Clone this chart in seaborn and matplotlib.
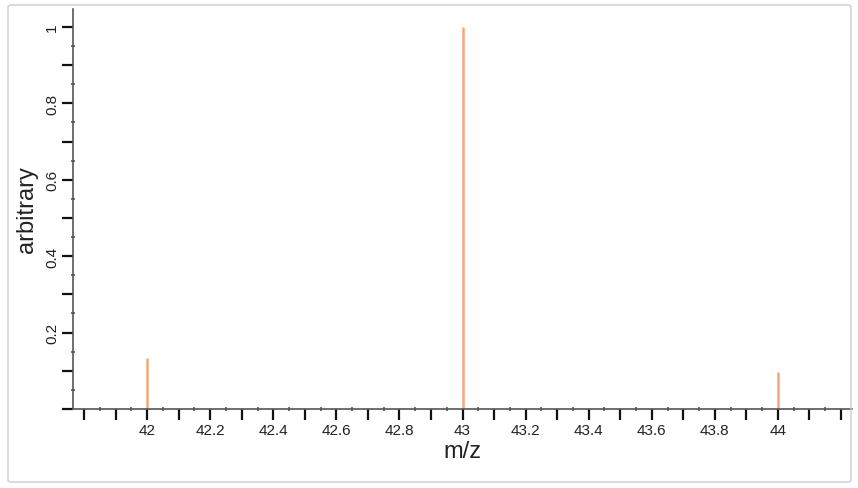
import seaborn as sns
import matplotlib.pyplot as plt
import matplotlib.ticker as mticker
from matplotlib.patches import FancyBboxPatch

mz = [42.0, 43.0, 44.0]
intensity = [0.134, 1.0, 0.096]

sns.set_style("ticks")
plt.rcParams["font.family"] = ["Liberation Sans", "DejaVu Sans"]

fig = plt.figure(figsize=(8.58, 4.89), dpi=100)
fig.patches.append(FancyBboxPatch((8 / 858, 6 / 489), 843 / 858, 477 / 489,
                                  boxstyle="round,pad=0,rounding_size=0.004",
                                  transform=fig.transFigure, facecolor="none",
                                  edgecolor="#cccccc", linewidth=1))
ax = fig.add_axes([73 / 858, 1 - 410 / 489, 779 / 858, 400 / 489])

ax.vlines(mz, 0, intensity, color="#f5a77c", linewidth=1.8)

ax.set_xlim(41.765, 44.235)
ax.set_ylim(0, 1.047)
sns.despine(ax=ax)
for s in ["left", "bottom"]:
    ax.spines[s].set_color("#555555")
    ax.spines[s].set_linewidth(1.2)

ax.xaxis.set_major_locator(mticker.MultipleLocator(0.1))
ax.xaxis.set_minor_locator(mticker.MultipleLocator(0.05))
ax.xaxis.set_major_formatter(mticker.FuncFormatter(
    lambda v, p: (f"{v:g}" if abs(round(v * 10) % 2) == 0 and 41.9 < v < 44.1 else "")))
ax.yaxis.set_major_locator(mticker.MultipleLocator(0.1))
ax.yaxis.set_minor_locator(mticker.MultipleLocator(0.05))
ax.yaxis.set_major_formatter(mticker.FuncFormatter(
    lambda v, p: (f"{v:g}" if round(v * 10) % 2 == 0 and v > 0.05 else "")))

ax.tick_params(which="major", length=8, width=1.6, direction="out",
               color="#111111", labelsize=11, labelcolor="#222222")
ax.tick_params(which="minor", length=3, width=1.2, direction="inout",
               color="#555555")
ax.tick_params(axis="x", which="major", pad=2)
for lbl in ax.get_yticklabels():
    lbl.set_rotation(90)
    lbl.set_va("center")
ax.tick_params(axis="y", which="major", pad=2)

ax.set_xlabel("m/z", fontsize=17, color="#222222", labelpad=2)
ax.set_ylabel("arbitrary", fontsize=17, color="#222222", labelpad=5)

fig.savefig("out.png", dpi=100)
